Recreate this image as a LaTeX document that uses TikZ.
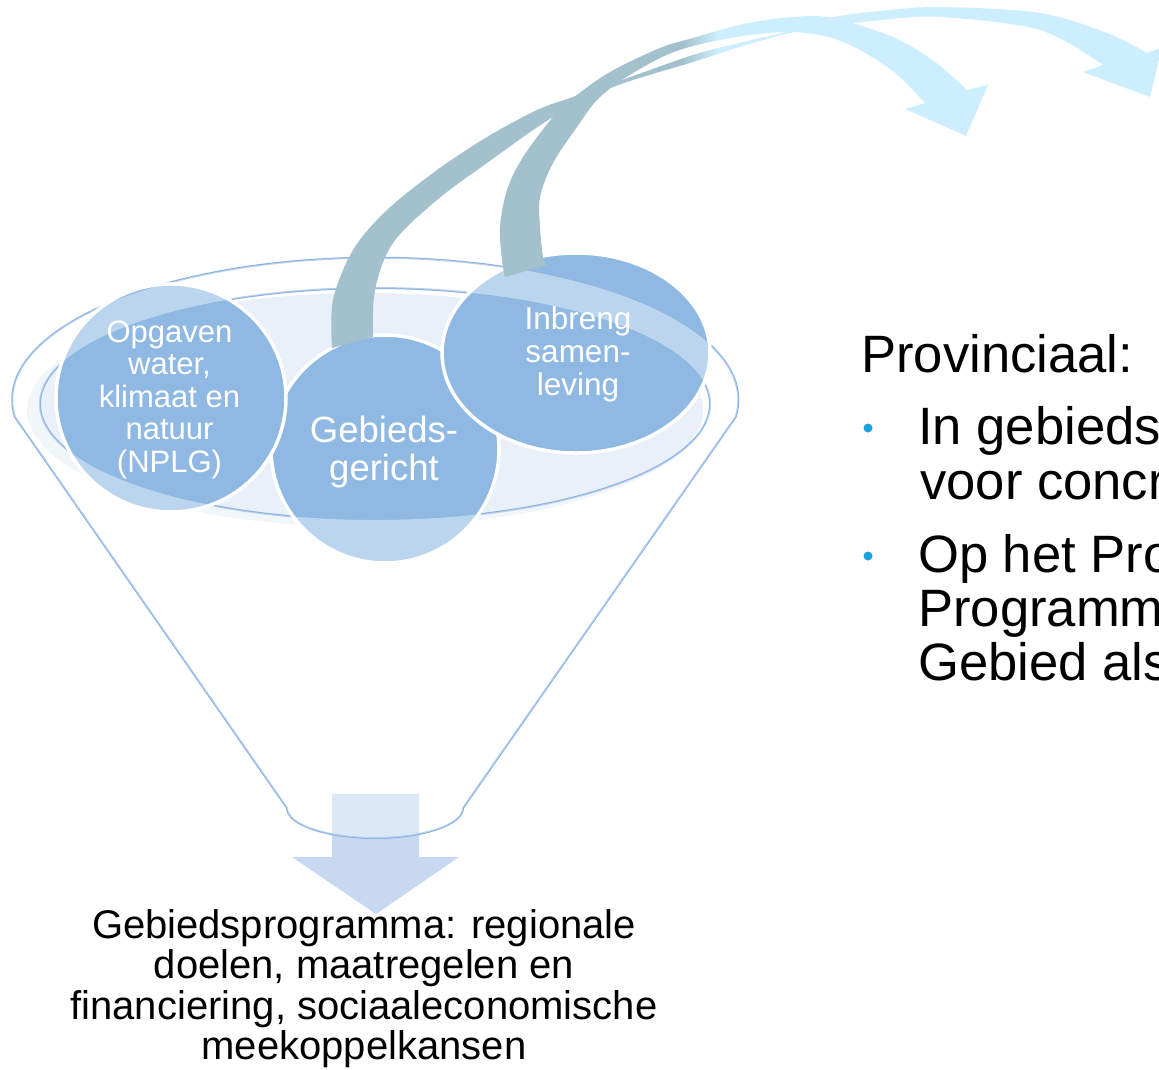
\documentclass[tikz,border=0pt]{standalone}
\usepackage{fontspec}
\setmainfont{Liberation Sans}
\definecolor{funline}{HTML}{8AB2E1}
\definecolor{circfill}{HTML}{8FB9E3}
\definecolor{innerfill}{HTML}{E9F0F9}
\definecolor{downarrow}{HTML}{C6D9F1}
\definecolor{arrgray}{HTML}{A3C0CD}
\definecolor{arrlight}{HTML}{CCEEFF}
\definecolor{bulletblue}{HTML}{1BA1E2}
\newcommand\arrowpaint{%
  \fill[arrgray] (300,-5) rectangle (683,400);
  \shade[left color=arrgray, right color=arrlight] (682,-5) rectangle (718,400);
  \fill[arrlight] (717,-5) rectangle (1200,400);}
\begin{document}
\begin{tikzpicture}[x=1pt,y=-1pt,
  funnelline/.style={draw=funline, line width=2pt},
  bubble/.style={fill=circfill, draw=white, line width=3.5pt},
  bubbletext/.style={text=white, align=center, anchor=base, inner sep=0pt},
  blacktext/.style={text=black, anchor=base west, inner sep=0pt, font=\fontsize{52.6}{53.5}\selectfont}]
\useasboundingbox (0,0) rectangle (1159,1069);
\clip (0,0) rectangle (1159,1069);
% inner light fill of the funnel top
\fill[innerfill] (365,410) ellipse [x radius=338pt, y radius=117pt];
% down arrow
\fill[downarrow] (332,794) -- (419,794) -- (419,857) -- (459,857) -- (376,914) -- (292,857) -- (332,857) -- cycle;
% funnel outline and rim
\draw[funnelline] (15,417) arc[start angle=187, end angle=-7, x radius=363pt, y radius=142pt]
  -- (463,808) arc[start angle=0, end angle=-180, x radius=88pt, y radius=30pt] -- cycle;
\draw[funnelline] (375,404) ellipse [x radius=335pt, y radius=116pt];
% circles
\path[bubble] (385,449) circle [radius=114pt];
\path[bubble] (171,398) ellipse [x radius=115pt, y radius=114pt];
\path[bubble] (576,353) ellipse [x radius=134pt, y radius=100pt];
% translucent white overlay on funnel body outside the rim
\fill[white, fill opacity=0.4, even odd rule] (15,417) arc[start angle=187, end angle=-7, x radius=363pt, y radius=142pt]
  -- (463,808) arc[start angle=0, end angle=-180, x radius=88pt, y radius=30pt] -- cycle
  (375,404) ellipse [x radius=335pt, y radius=116pt];
% curved arrow from middle circle
\begin{scope}
\clip plot[smooth, tension=0.55] coordinates {(332,348) (333,300) (353,250) (387,210) (437,170) (487,137) (537,110) (573,97) (622,80) (693,55) (743,42) (790,31) (812,24) (833,17) (880,11) (940,7) (1040,13) (1107,33) (1147,53)}
  -- (1162,47) -- (1150,97) -- (1083,72) -- (1103,65)
  -- plot[smooth, tension=0.55] coordinates {(1103,65) (1040,30) (940,17) (880,20) (853,23) (790,33) (743,46) (693,62) (613,87) (553,117) (487,163) (437,200) (393,243) (375,290) (373,337)} -- cycle;
\arrowpaint
\end{scope}
% curved arrow from right circle
\begin{scope}
\clip plot[smooth, tension=0.55] coordinates {(505,277) (502,260) (500,227) (507,190) (523,157) (553,117) (573,98) (610,72) (660,48) (693,38) (743,24) (793,17) (833,18) (893,37) (935,62) (967,90)}
  -- (988,85) -- (966,136) -- (905,109) -- (925,103)
  -- plot[smooth, tension=0.55] coordinates {(925,103) (895,73) (860,50) (828,37) (790,32) (743,36) (693,46) (660,58) (622,80) (597,100) (577,127) (553,163) (540,197) (540,227) (543,257) (547,265)} -- cycle;
\arrowpaint
\end{scope}
% circle texts (anchor = baseline of last line)
\node[bubbletext, font=\fontsize{31}{32.5}\selectfont] (opg) at (169.5,472) {Opgaven\\water,\\klimaat en\\natuur\\(NPLG)};
\node[bubbletext, font=\fontsize{36.5}{38}\selectfont] (geb) at (384,480) {Gebieds-\\gericht};
\node[bubbletext, font=\fontsize{31.5}{33}\selectfont] (inb) at (578,395) {Inbreng\\samen-\\leving};
% bottom text
\node[align=center, anchor=base, inner sep=0pt, font=\fontsize{40}{40.5}\selectfont] (prog) at (364,1059.5)
  {Gebiedsprogramma: regionale\\doelen, maatregelen en\\financiering, sociaaleconomische\\meekoppelkansen};
% right text
\node[blacktext] (prov) at (861,372.7) {Provinciaal:};
\fill[bulletblue] (868,428) circle [radius=4.5pt];
\node[blacktext] (b1a) at (918,444) {In gebieds};
\node[blacktext] (b1b) at (920,499) {voor concr};
\fill[bulletblue] (868,556) circle [radius=4.5pt];
\node[blacktext] (b2a) at (918,572) {Op het Pro};
\node[blacktext] (b2b) at (918,626) {Programm};
\node[blacktext] (b2c) at (918,680) {Gebied als};
\end{tikzpicture}
\end{document}
